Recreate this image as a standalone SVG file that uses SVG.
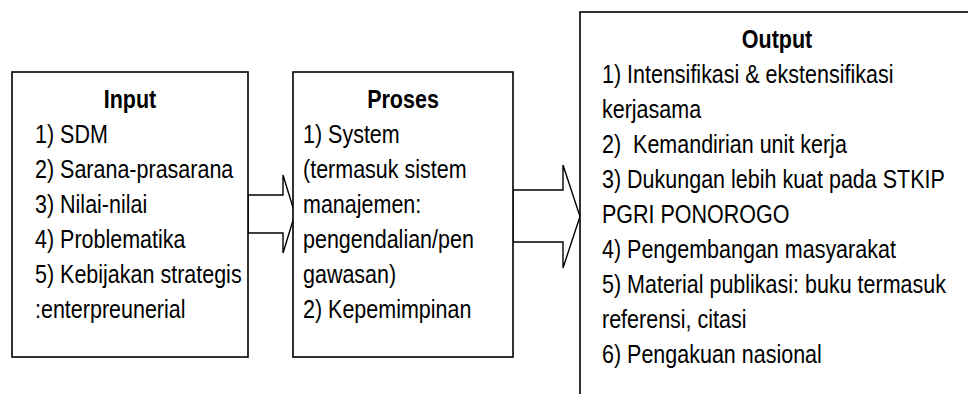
<svg xmlns="http://www.w3.org/2000/svg" width="968" height="394" viewBox="0 0 968 394">
<style>
.box{fill:#fff;stroke:#000;stroke-width:1.6}
.arr{fill:#fff;stroke:#000;stroke-width:1.4;stroke-linejoin:miter}
text{font-family:"Liberation Sans",Arial,sans-serif;font-size:21.5px;fill:#000}
.t{font-weight:bold;text-anchor:middle}
</style>
<rect width="968" height="394" fill="#fff"/>
<g id="connectors">
<polygon class="arr" points="248,195 283,195 283,175 295,214 283,253 283,233 248,233"/>
<polygon class="arr" points="513,190 563,190 563,165 580,216.5 563,268 563,242 513,242"/>
</g>
<g id="input">
<rect class="box" x="12" y="72" width="236" height="285"/>
<text class="t" transform="translate(130 108) scale(1 1.2)">Input</text>
<text transform="translate(35 143) scale(1 1.2)">1) SDM</text>
<text transform="translate(35 178) scale(1 1.2)">2) Sarana-prasarana</text>
<text transform="translate(35 213) scale(1 1.2)">3) Nilai-nilai</text>
<text transform="translate(35 248) scale(1 1.2)">4) Problematika</text>
<text transform="translate(35 283) scale(1 1.2)">5) Kebijakan strategis</text>
<text transform="translate(35 318) scale(1 1.2)">:enterpreunerial</text>
</g>
<g id="proses">
<rect class="box" x="293" y="72" width="220" height="285"/>
<text class="t" transform="translate(403 108) scale(1 1.2)">Proses</text>
<text transform="translate(303 143) scale(1 1.2)">1) System</text>
<text transform="translate(303 178) scale(1 1.2)">(termasuk sistem</text>
<text transform="translate(303 213) scale(1 1.2)">manajemen:</text>
<text transform="translate(303 248) scale(1 1.2)">pengendalian/pen</text>
<text transform="translate(303 283) scale(1 1.2)">gawasan)</text>
<text transform="translate(303 318) scale(1 1.2)">2) Kepemimpinan</text>
</g>
<g id="output">
<rect class="box" x="580" y="12" width="400" height="400"/>
<text class="t" transform="translate(777 48) scale(1 1.2)">Output</text>
<text transform="translate(602 83) scale(1 1.2)">1) Intensifikasi &amp; ekstensifikasi</text>
<text transform="translate(602 118) scale(1 1.2)">kerjasama</text>
<text transform="translate(602 153) scale(1 1.2)" xml:space="preserve">2)  Kemandirian unit kerja</text>
<text transform="translate(602 188) scale(1 1.2)">3) Dukungan lebih kuat pada STKIP</text>
<text transform="translate(602 223) scale(1 1.2)">PGRI PONOROGO</text>
<text transform="translate(602 258) scale(1 1.2)">4) Pengembangan masyarakat</text>
<text transform="translate(602 293) scale(1 1.2)">5) Material publikasi: buku termasuk</text>
<text transform="translate(602 328) scale(1 1.2)">referensi, citasi</text>
<text transform="translate(602 363) scale(1 1.2)">6) Pengakuan nasional</text>
</g>
</svg>
